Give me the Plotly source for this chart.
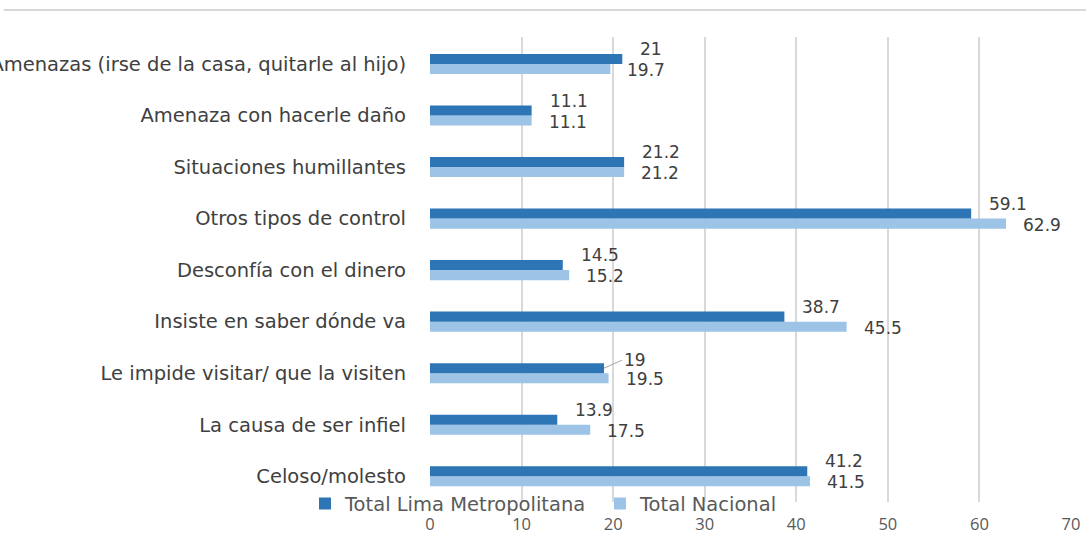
import plotly.graph_objects as go

categories = [
    "Celoso/molesto",
    "La causa de ser infiel",
    "Le impide visitar/ que la visiten",
    "Insiste en saber dónde va",
    "Desconfía con el dinero",
    "Otros tipos de control",
    "Situaciones humillantes",
    "Amenaza con hacerle daño",
    "Amenazas (irse de la casa, quitarle al hijo)",
]
lima = [41.2, 13.9, 19, 38.7, 14.5, 59.1, 21.2, 11.1, 21]
nacional = [41.5, 17.5, 19.5, 45.5, 15.2, 62.9, 21.2, 11.1, 19.7]
series_names = ["Total Lima Metropolitana", "Total Nacional"]
x_ticks = [0, 10, 20, 30, 40, 50, 60, 70]

DARK = "#2E75B6"
LIGHT = "#9DC3E6"
TEXT = "#404040"
FONT = "DejaVu Sans"
FS_CAT = 19.5
FS_LBL = 17

fig = go.Figure()
fig.add_trace(go.Bar(y=categories, x=nacional, orientation="h", name=series_names[1],
                     marker=dict(color=LIGHT, line=dict(width=0)), legendrank=2))
fig.add_trace(go.Bar(y=categories, x=lima, orientation="h", name=series_names[0],
                     marker=dict(color=DARK, line=dict(width=0)), legendrank=1))

ann = []
for c, v in zip(categories, lima):
    if v == 19:
        ann.append(dict(x=v, y=c, text=str(v), showarrow=True, arrowhead=0, arrowwidth=1,
                        arrowcolor="#a6a6a6", ax=18, ay=-8, xanchor="left", yshift=5,
                        font=dict(family=FONT, size=FS_LBL, color=TEXT)))
    else:
        ann.append(dict(x=v, y=c, text=str(v), showarrow=False, xanchor="left", yanchor="middle",
                        xshift=16, yshift=15, font=dict(family=FONT, size=FS_LBL, color=TEXT)))
for c, v in zip(categories, nacional):
    ann.append(dict(x=v, y=c, text=str(v), showarrow=False, xanchor="left", yanchor="middle",
                    xshift=15, yshift=-6, font=dict(family=FONT, size=FS_LBL, color=TEXT)))

fig.update_layout(
    width=1086, height=533,
    margin=dict(l=430, r=15, t=37, b=31, autoexpand=False),
    paper_bgcolor="white", plot_bgcolor="white",
    barmode="group", bargap=0.61, bargroupgap=0,
    font=dict(family=FONT, size=FS_CAT, color=TEXT),
    xaxis=dict(range=[0, 70], tickvals=x_ticks, showgrid=True, gridcolor="#d9d9d9", gridwidth=1.5,
               zeroline=False, showline=False, ticks="", ticklabelstandoff=10, automargin=False,
               tickfont=dict(family="Open Sans", size=16.5, color="#595959")),
    yaxis=dict(showgrid=False, zeroline=False, showline=False, ticks="", ticklabelstandoff=23,
               automargin=False, tickfont=dict(family=FONT, size=FS_CAT, color=TEXT)),
    legend=dict(orientation="h", x=-0.195, xanchor="left", y=-0.004, yanchor="middle",
                bgcolor="rgba(0,0,0,0)", font=dict(family=FONT, size=FS_CAT, color="#595959"),
                entrywidth=250, entrywidthmode="pixels"),
    annotations=ann,
    shapes=[dict(type="line", xref="paper", yref="paper", x0=-0.665, x1=1.03, y0=1.058, y1=1.058,
                 line=dict(color="#d9d9d9", width=2))],
)

fig.write_html("out.html", config={"displayModeBar": False},
               post_script="document.body.style.margin='0';")
